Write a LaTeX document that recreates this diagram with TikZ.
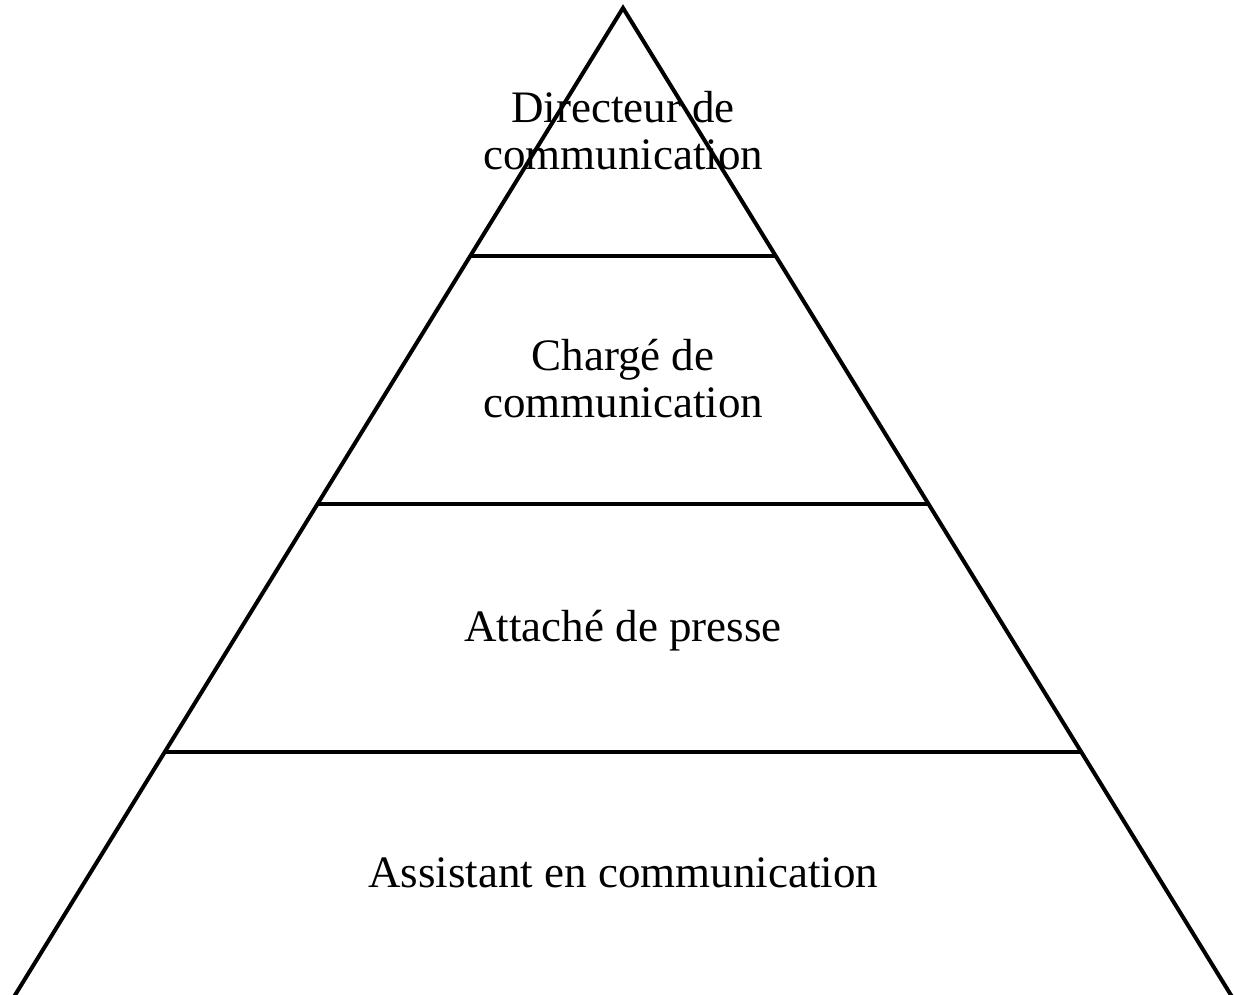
\documentclass[tikz,border=0pt]{standalone}
\usepackage{fontspec}
\setmainfont{Liberation Serif}
\usetikzlibrary{calc}

\begin{document}
\begin{tikzpicture}[
    x=1pt, y=-1pt,
    edge/.style={
        line width=4pt, color=black
    },
    lvl/.style={
        anchor=base, align=center, inner sep=0pt,
        font=\fontsize{45}{47}\selectfont
    }
]

\useasboundingbox (0,0) rectangle (1234,995);

% Pyramid
\coordinate (apex) at (623,8);
\coordinate (bl) at (12,1000);
\coordinate (br) at (1234,1000);
\draw[edge] (bl) -- (apex) -- (br);
\foreach \t in {0.25,0.5,0.75}
    \draw[edge] ($(apex)!\t!(bl)$) -- ($(apex)!\t!(br)$);

% Labels (base = last line)
\node[lvl] (directeur) at (623,170) {Directeur de\\communication};
\node[lvl] (charge) at (623,417) {Chargé de\\communication};
\node[lvl] (attache) at (623,641) {Attaché de presse};
\node[lvl] (assistant) at (623,887) {Assistant en communication};

\end{tikzpicture}
\end{document}
